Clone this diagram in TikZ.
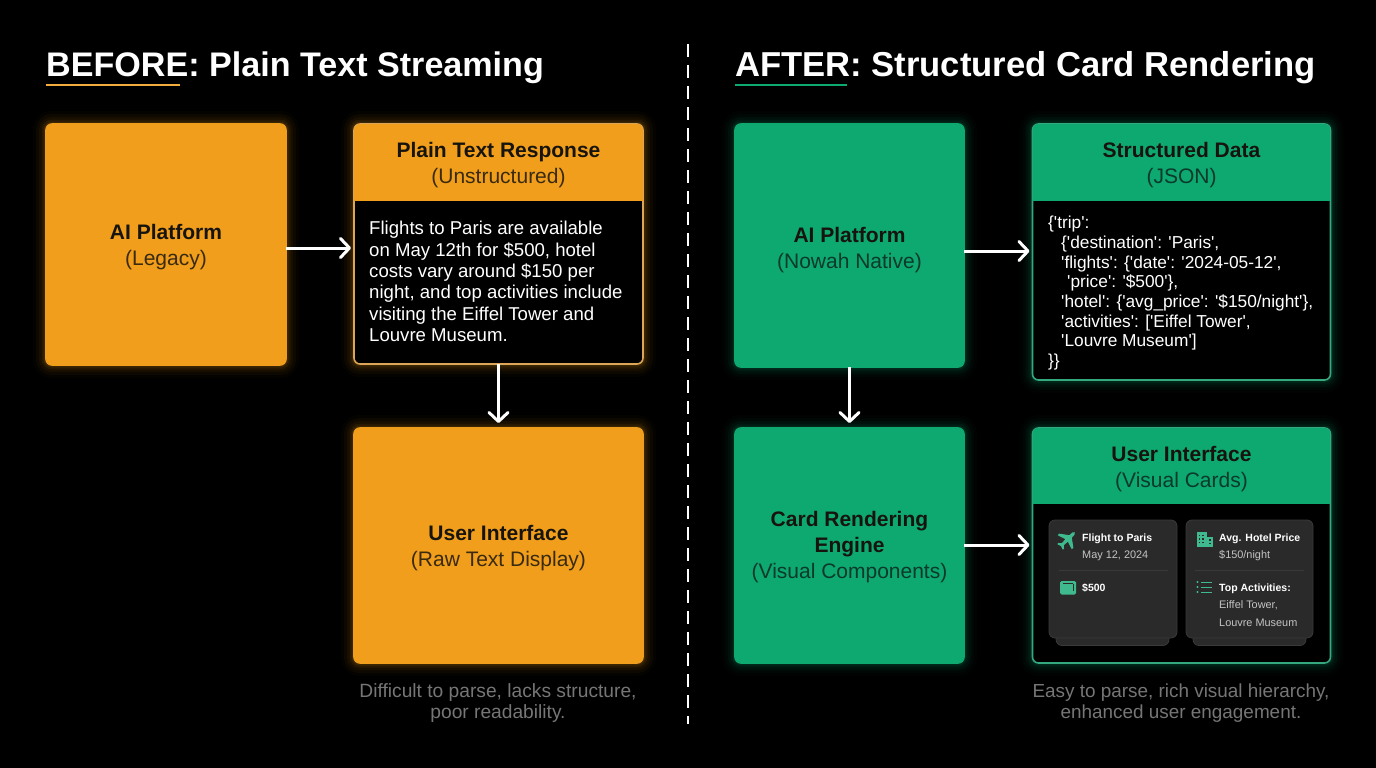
\documentclass[tikz,border=0pt]{standalone}
\usepackage{fontspec}
\setmainfont{Liberation Sans}
\newfontfamily\plainf{Liberation Sans}
\usetikzlibrary{arrows.meta}
\definecolor{org}{HTML}{F09E1B}
\definecolor{grn}{HTML}{0EA871}
\definecolor{orgedge}{HTML}{DDA558}
\definecolor{grnedge}{HTML}{35A880}
\definecolor{icon}{HTML}{3FB98E}
\definecolor{ink}{HTML}{17140E}
\definecolor{sube}{HTML}{3A2A10}
\definecolor{subg}{HTML}{0B3A2A}
\definecolor{cap}{HTML}{767676}
\definecolor{mini}{HTML}{2A2A2A}
\definecolor{minib}{HTML}{3A3A3A}
\definecolor{minit}{HTML}{C4C4C4}
\newcommand{\fs}[2]{\fontsize{#1}{#2}\selectfont}
\tikzset{
  x=1pt,y=-1pt,
  glowcard/.style={draw=#1,line width=1.6pt,rounded corners=6pt,outer sep=0pt,inner sep=0pt,
    preaction={draw=#1,line width=26pt,draw opacity=.025},
    preaction={draw=#1,line width=20pt,draw opacity=.035},
    preaction={draw=#1,line width=14pt,draw opacity=.05},
    preaction={draw=#1,line width=9pt,draw opacity=.07},
    preaction={draw=#1,line width=5pt,draw opacity=.10}},
  solidcard/.style={glowcard=#1,fill=#1},
  splitcard/.style={glowcard=#1,draw=#1edge,fill=black},
  headtext/.style={align=center,text=ink,font=\fs{21}{26},inner sep=0pt},
  link/.style={draw=white,line width=3pt,-{Straight Barb[round,length=9pt,width=19pt,line width=3pt]}},
  title/.style={anchor=base west,text=white,inner sep=0pt,font=\fs{#1}{40}\bfseries},
  under/.style={line width=2.6pt},
  caption/.style={align=center,text=cap,font=\fs{#1}{21},inner sep=0pt},
  bodytext/.style={anchor=north west,align=left,text=white,inner sep=0pt,font=\fs{18.6}{21.4}},
  jsontext/.style={anchor=north west,align=left,text=white,inner sep=0pt,font=\plainf\fs{17.3}{19.7}},
  minicard/.style={draw=minib,fill=mini,line width=.8pt,rounded corners=6pt,inner sep=0pt,outer sep=0pt},
  minihead/.style={anchor=base west,inner sep=0pt,text=white,font=\fs{10.5}{14}\bfseries},
  minibody/.style={anchor=base west,inner sep=0pt,text=minit,font=\fs{10.9}{14}},
  minirule/.style={draw=minib,line width=.8pt},
}
\begin{document}
\begin{tikzpicture}
\useasboundingbox[fill=black] (0,0) rectangle (1376,768);
% titles
\node[title=34.1] (t1) at (46,77) {BEFORE: Plain Text Streaming};
\node[title=34.6] (t2) at (735,77) {AFTER: Structured Card Rendering};
\draw[under,draw=org!85!white] (46,85) -- (180,85);
\draw[under,draw=grn] (735,85) -- (847,85);
% divider
\coordinate (d1) at (688,44);
\coordinate (d2) at (688,724);
\draw[white,line width=2.4pt,dash pattern=on 13pt off 8pt] (d1) -- (d2);
% left column
\node[solidcard=org,minimum width=240pt,minimum height=241pt] (a1) at (166,244.5) {};
\node[headtext] (a1t) at (166,247) {\textbf{AI Platform}\\\textcolor{sube}{(Legacy)}};
\node[splitcard=org,minimum width=289pt,minimum height=240pt] (a2) at (498.5,244) {};
\begin{scope}
  \clip[rounded corners=6pt] (a2.north west) rectangle (a2.south east);
  \fill[org] (354,124) rectangle (643,200.5);
\end{scope}
\node[headtext] (a2h) at (498.5,165) {\textbf{Plain Text Response}\\\textcolor{sube}{(Unstructured)}};
\node[bodytext] (a2b) at (369,221) {Flights to Paris are available\\on May 12th for \$500, hotel\\costs vary around \$150 per\\night, and top activities include\\visiting the Eiffel Tower and\\Louvre Museum.};
\node[solidcard=org,minimum width=289pt,minimum height=235pt] (a3) at (498.5,545.5) {};
\node[headtext] (a3t) at (498.5,548) {\textbf{User Interface}\\\textcolor{sube}{(Raw Text Display)}};
\node[caption=19.2] (c1) at (498,703) {Difficult to parse, lacks structure,\\poor readability.};
% right column
\node[solidcard=grn,minimum width=229pt,minimum height=243pt] (b1) at (849.5,245.5) {};
\node[headtext] (b1t) at (849.5,250) {\textbf{AI Platform}\\\textcolor{subg}{(Nowah Native)}};
\node[splitcard=grn,minimum width=298pt,minimum height=256pt] (b2) at (1181.5,252) {};
\begin{scope}
  \clip[rounded corners=6pt] (b2.north west) rectangle (b2.south east);
  \fill[grn] (1032,124) rectangle (1331,201);
\end{scope}
\node[headtext] (b2h) at (1181.5,165) {\textbf{Structured Data}\\\textcolor{subg}{(JSON)}};
\node[jsontext] (b2b) at (1048,216) {\{'trip':\\
\hspace*{13pt}\{'destination': 'Paris',\\
\hspace*{13pt}'flights': \{'date': '2024-05-12',\\
\hspace*{19pt}'price': '\$500'\},\\
\hspace*{13pt}'hotel': \{'avg\_price': '\$150/night'\},\\
\hspace*{13pt}'activities': ['Eiffel Tower',\\
\hspace*{13pt}'Louvre Museum']\\
\}\}};
\node[solidcard=grn,minimum width=229pt,minimum height=235pt] (b3) at (849.5,545.5) {};
\node[headtext] (b3t) at (849.5,547.5) {\textbf{Card Rendering}\\\textbf{Engine}\\\textcolor{subg}{(Visual Components)}};
\node[splitcard=grn,minimum width=298pt,minimum height=235pt] (b4) at (1181.5,545.5) {};
\begin{scope}
  \clip[rounded corners=6pt] (b4.north west) rectangle (b4.south east);
  \fill[grn] (1032,428) rectangle (1331,504);
\end{scope}
\node[headtext] (b4h) at (1181.5,469) {\textbf{User Interface}\\\textcolor{subg}{(Visual Cards)}};
\node[caption=18.9] (c2) at (1181,703) {Easy to parse, rich visual hierarchy,\\enhanced user engagement.};
% mini cards
\draw[minicard] (1056,620) rectangle (1169,645.5);
\draw[minicard] (1193,620) rectangle (1306,645.5);
\node[minicard,minimum width=128pt,minimum height=118pt] (m1) at (1113,579) {};
\node[minicard,minimum width=127pt,minimum height=118pt] (m2) at (1249.5,579) {};
\draw[minirule] (1059,570) -- (1168,570);
\draw[minirule] (1195,570) -- (1304,570);
\node[minihead] (m1a) at (1082,541) {Flight to Paris};
\node[minibody] (m1b) at (1082,558) {May 12, 2024};
\node[minihead] (m1c) at (1082,591) {\$500};
\node[minihead] (m2a) at (1219,541) {Avg. Hotel Price};
\node[minibody] (m2b) at (1219,558) {\$150/night};
\node[minihead] (m2c) at (1219,591) {Top Activities:};
\node[minibody] (m2d) at (1219,608.5) {Eiffel Tower,};
\node[minibody] (m2e) at (1219,626) {Louvre Museum};
% plane icon
\begin{scope}[shift={(1067,540)},rotate=-45]
  \fill[icon] (0,-11) .. controls (1.6,-11) and (1.8,-8) .. (1.8,-5) -- (10,1) -- (10,3.2) -- (1.8,0.6) -- (1.4,6) -- (4,8.2) -- (4,9.8) -- (0,8.6) -- (-4,9.8) -- (-4,8.2) -- (-1.4,6) -- (-1.8,0.6) -- (-10,3.2) -- (-10,1) -- (-1.8,-5) .. controls (-1.8,-8) and (-1.6,-11) .. (0,-11) -- cycle;
\end{scope}
% card icon
\fill[icon,rounded corners=1.5pt] (1060,581) rectangle (1076,594.5);
\draw[mini,line width=.8pt] (1063,583.5) -- (1073,583.5);
\draw[mini,line width=.8pt] (1073.5,583.5) -- (1073.5,591);
% hotel icon
\fill[icon] (1196.5,532) rectangle (1206.5,547);
\fill[icon] (1206.5,536.5) rectangle (1212.5,547);
\foreach \wy in {534.5,538,541.5}{
  \foreach \wx in {1198.5,1202}{\fill[mini] (\wx,\wy) rectangle +(1.8,1.6);}
}
\foreach \wy in {539,542.5}{\fill[mini] (1208.5,\wy) rectangle +(2,1.6);}
% list icon
\foreach \ly in {582,587,592}{
  \fill[icon] (1197.5,\ly) circle (1.1pt);
  \draw[icon,line width=.9pt] (1201,\ly) -- (1212,\ly);
}
% connectors
\coordinate (r1) at (0,248);
\coordinate (r2) at (0,251);
\coordinate (r3) at (0,545);
\draw[link] (a1.east|-r1) -- ([xshift=-3pt]a2.west|-r1);
\draw[link] (a2.south) -- ([yshift=5pt]a3.north);
\draw[link] (b1.east|-r2) -- ([xshift=-3pt]b2.west|-r2);
\draw[link] (b1.south) -- ([yshift=5pt]b3.north);
\draw[link] (b3.east|-r3) -- ([xshift=-3pt]b4.west|-r3);
\end{tikzpicture}
\end{document}
